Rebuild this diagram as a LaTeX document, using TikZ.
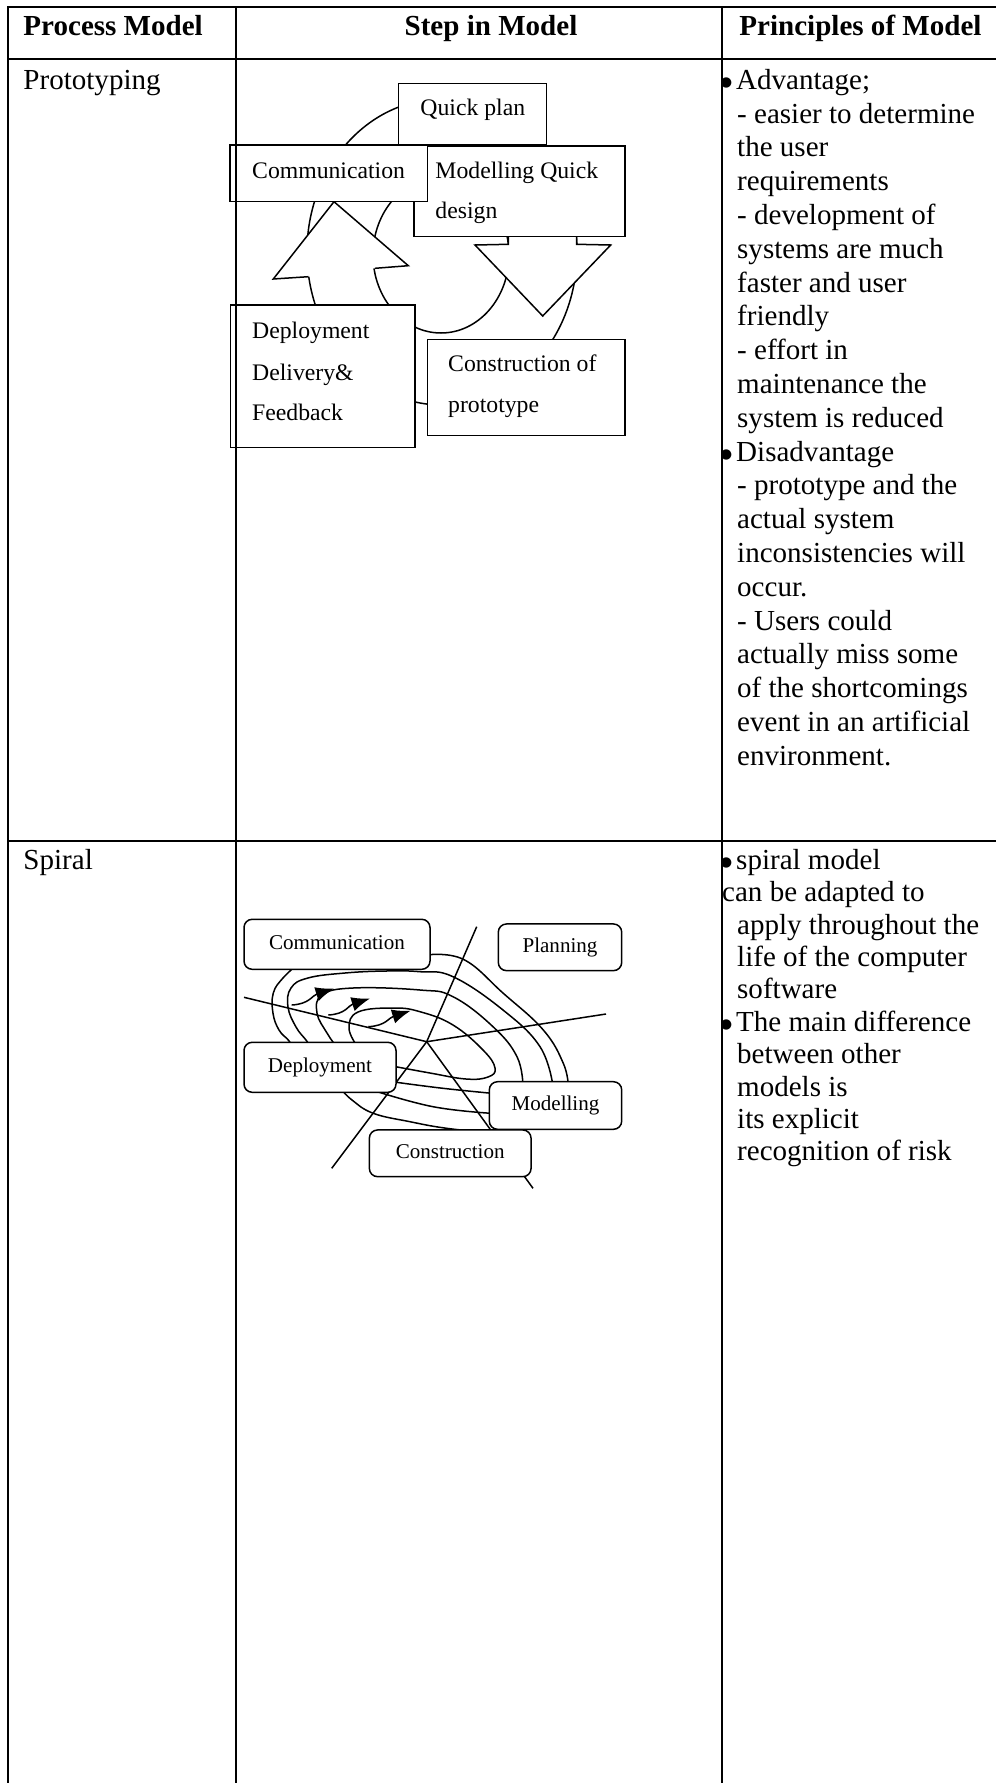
\documentclass[tikz,border=0pt]{standalone}
\usepackage{fontspec}
\setmainfont{Liberation Serif}
\newfontfamily\symfont{DejaVu Sans}
\usetikzlibrary{arrows.meta,fit}
% one drawing unit = one pixel of the page grid
\newcommand\pxu{0.4132pt}
% list bullet
\newcommand\rowbullet{\makebox[6.5pt][l]{\raisebox{1.1pt}{\fontsize{5.6}{7}\symfont ●}}}
\begin{document}
\begin{tikzpicture}[x=\pxu,y=-\pxu,
  rule/.style={line width=0.95pt},
  dline/.style={line width=0.62pt, line join=miter},
  pbox/.style={draw, fill=white, line width=0.62pt, inner sep=0pt},
  sbox/.style={draw, fill=white, line width=0.62pt, rounded corners=3.4pt, inner sep=0pt,
    font=\fontsize{8.7}{10}\selectfont, text height=6.1pt, text depth=1.9pt},
  ptxt/.style={anchor=base west, inner sep=0pt, font=\fontsize{9.8}{11}\selectfont},
  body/.style={anchor=base west, inner sep=0pt, font=\fontsize{12}{14}\selectfont},
  head/.style={inner sep=0pt, font=\fontsize{12}{14}\selectfont\bfseries},
  tipL/.style={-{Latex[length=7.6pt,width=6pt]}}
]
\useasboundingbox (0,0) rectangle (996,1783);

% ---------- header ----------
\node[head, anchor=base west] (h1) at (23,35) {Process Model};
\node[head, anchor=base] (h2) at (491,35) {Step in Model};
\node[head, anchor=base west] (h3) at (739,35) {Principles of Model};

% ---------- row titles ----------
\node[body] (r1) at (23,89.3) {Prototyping};
\node[body] (r2) at (23,869.3) {Spiral};

% ---------- prototyping ring with two hollow arrows ----------
\draw[dline] (442,252) ellipse [x radius=135, y radius=153];
\draw[dline] (441,255) ellipse [x radius=68, y radius=78];
% up arrow: deployment -> communication
\draw[dline, fill=white] (308.3,276.7) -- (273.3,279) -- (334,201.7) -- (408.3,265.7) -- (375,268.3);
% down arrow: modelling -> construction
\draw[dline, fill=white] (508.3,236.7) -- (508.3,244.3) -- (475,245) -- (542.7,316)
  -- (610.7,245) -- (576.7,244.3) -- (576.7,236.7);

\node[pbox, fit={(398.3,83.3) (546.7,145)}] (qplan) {};
\node[pbox, fit={(414,146) (625,236.7)}] (pmod) {};
\node[pbox, fit={(230,145) (427.3,201.7)}] (pcom) {};
\node[pbox, fit={(230.3,305) (415,447.7)}] (pdep) {};
\node[pbox, fit={(427.3,339.3) (625,435.7)}] (pcon) {};

\node[ptxt] (qplan-t) at (420,115.5) {Quick plan};
\node[ptxt] (pcom-t) at (251.7,178.3) {Communication};
\node[ptxt] (pmod-t1) at (435,178.3) {Modelling Quick};
\node[ptxt] (pmod-t2) at (435,218.3) {design};
\node[ptxt] (pdep-t1) at (251.7,338.3) {Deployment};
\node[ptxt] (pdep-t2) at (251.7,380) {Delivery\&};
\node[ptxt] (pdep-t3) at (251.7,420.7) {Feedback};
\node[ptxt] (pcon-t1) at (447.7,371.7) {Construction of};
\node[ptxt] (pcon-t2) at (447.7,412.7) {prototype};

% ---------- spiral ----------
\coordinate (hub) at (426.7,1041.7);
\coordinate (stTop) at (476.7,926.7);
\coordinate (stBot) at (331.7,1168.3);
\coordinate (lnL) at (244,997.3);
\coordinate (lnR) at (606,1014);
\coordinate (lnD) at (533,1188.3);
\draw[dline] (stBot) -- (hub) -- (stTop);
\draw[dline] (lnL) -- (hub) -- (lnR);
\draw[dline] (hub) -- (lnD);

% loops, innermost first
\draw[dline] plot[smooth, tension=0.7] coordinates {(357,1046) (349,1028) (358,1012) (393,1008)
  (420,1011.7) (453,1025) (483,1050) (495,1068) (488,1077) (466,1079) (430,1073) (392,1066)};
\draw[dline] plot[smooth, tension=0.7] coordinates {(336,1046) (327,1033) (317,1013) (322,995)
  (353,988) (420,990) (453,996.7) (493,1026.7) (517,1056.7) (523,1086)};
\draw[dline] plot[smooth, tension=0.7] coordinates {(494,1093.5) (443,1088.3) (392,1081.7)};
\draw[dline] plot[smooth, tension=0.7] coordinates {(310,1046) (306,1040) (296,1027) (288,1007)
  (291,988) (308,978) (345,973) (386,971) (420,971.7) (453,976.7) (503,1010) (540,1046.7) (553,1086)};
\draw[dline] plot[smooth, tension=0.7] coordinates {(494,1113.5) (433,1106.7) (372,1090)};
\draw[dline] plot[smooth, tension=0.7] coordinates {(298,964) (283,978) (273.3,993) (273,1013.3)
  (279,1030) (288.3,1040) (292,1046)};
\draw[dline] plot[smooth, tension=0.7] coordinates {(426,955) (463.3,959.3) (503.3,993.3)
  (543.3,1030) (563.3,1063.3) (568.3,1086)};
\draw[dline] plot[smooth, tension=0.7] coordinates {(340,1088) (352,1100) (373.3,1113.3)
  (410,1121.7) (446.7,1128.3) (492,1133)};

% small direction arrows
\coordinate (a1s) at (291.7,1005);  \coordinate (a1e) at (334,988.5);
\coordinate (a2s) at (328.3,1015);  \coordinate (a2e) at (370,998.5);
\coordinate (a3s) at (368.3,1026.7);\coordinate (a3e) at (410.5,1010.8);
\foreach \k in {1,2,3}
  \draw[dline, tipL] (a\k s) .. controls +(18,-1) and +(-22,7) .. (a\k e);

\node[sbox, minimum width=186*\pxu, minimum height=50*\pxu] (scom) at (337,944.3) {Communication};
\node[sbox, minimum width=123.4*\pxu, minimum height=46.7*\pxu] (splan) at (560,947.3) {Planning};
\node[sbox, minimum width=152*\pxu, minimum height=50*\pxu] (sdep) at (320,1067.3) {Deployment};
\node[sbox, minimum width=132.4*\pxu, minimum height=47.6*\pxu] (smod) at (555.5,1105.5) {Modelling};
\node[sbox, minimum width=161.7*\pxu, minimum height=46.7*\pxu] (scon) at (450.2,1153.3) {Construction};

% ---------- principles column ----------
\foreach \i/\xx/\t in {
  1/720/{\rowbullet Advantage;},
  2/736.7/{- easier to determine},
  3/736.7/{the user},
  4/736.7/{requirements},
  5/736.7/{- development of},
  6/736.7/{systems are much},
  7/736.7/{faster and user},
  8/736.7/{friendly},
  9/736.7/{- effort in},
  10/736.7/{maintenance the},
  11/736.7/{system is reduced},
  12/720/{\rowbullet Disadvantage},
  13/736.7/{- prototype and the},
  14/736.7/{actual system},
  15/736.7/{inconsistencies will},
  16/736.7/{occur.},
  17/736.7/{- Users could},
  18/736.7/{actually miss some},
  19/736.7/{of the shortcomings},
  20/736.7/{event in an artificial},
  21/736.7/{environment.}}
  \node[body] (pa\i) at (\xx,{89.3+(\i-1)*33.8}) {\t};

\foreach \i/\xx/\t in {
  1/720/{\rowbullet spiral model},
  2/721.7/{can be adapted to},
  3/736.7/{apply throughout the},
  4/736.7/{life of the computer},
  5/736.7/{software},
  6/720/{\rowbullet The main difference},
  7/736.7/{between other},
  8/736.7/{models is},
  9/736.7/{its explicit},
  10/736.7/{recognition of risk}}
  \node[body] (sp\i) at (\xx,{869.3+(\i-1)*32.4}) {\t};

% ---------- table rules ----------
\draw[rule, line cap=rect] (8.3,1795) -- (8.3,7.3) -- (1005,7.3);
\draw[rule] (8.3,59.3) -- (1005,59.3);
\draw[rule] (8.3,841) -- (1005,841);
\draw[rule] (235.7,7.3) -- (235.7,1795);
\draw[rule] (722,7.3) -- (722,1795);
\end{tikzpicture}
\end{document}
